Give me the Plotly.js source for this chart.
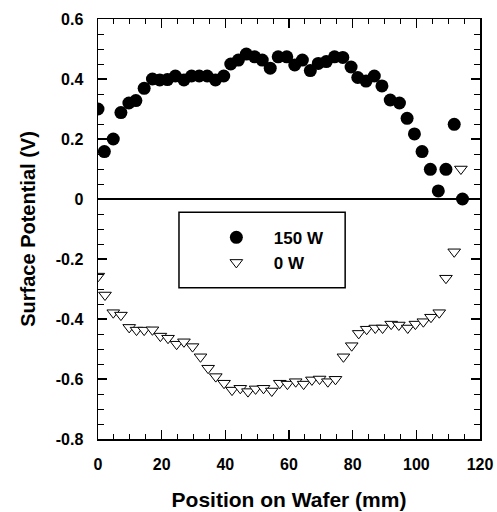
<!DOCTYPE html>
<html>
<head>
<meta charset="utf-8">
<script src="https://cdn.plot.ly/plotly-3.0.1.min.js"></script>
<style>html,body{margin:0;padding:0;background:#fff;}#chart{width:497px;height:512px;}</style>
</head>
<body>
<div id="chart"></div>
<script>
// 150 W series
const x150 = [0, 2, 4.8, 7.2, 9.7, 11.9, 14.5, 17.1, 19.4, 21.8, 24.3, 27, 29.4, 31.8, 34.3, 36.9, 39.5, 41.7, 44.1, 46.6, 49.2, 51.6, 54.1, 56.6, 59.3, 61.8, 64.2, 66.7, 69.2, 71.7, 74.3, 76.9, 79.5, 81.6, 84.2, 86.8, 89.2, 91.8, 94.7, 97.1, 99.4, 101.8, 104.4, 106.9, 109.3, 111.9, 114.5];
const y150 = [0.30, 0.158, 0.20, 0.288, 0.32, 0.328, 0.369, 0.40, 0.397, 0.398, 0.41, 0.397, 0.41, 0.41, 0.41, 0.397, 0.41, 0.45, 0.463, 0.483, 0.474, 0.463, 0.436, 0.474, 0.474, 0.447, 0.463, 0.428, 0.452, 0.458, 0.474, 0.472, 0.44, 0.405, 0.393, 0.41, 0.377, 0.33, 0.32, 0.269, 0.217, 0.158, 0.099, 0.027, 0.099, 0.249, 0.0];
// 0 W series
const x0 = [0.1, 2.2, 4.8, 7.2, 9.8, 12.1, 14.5, 17.1, 19.6, 22, 24.7, 27, 29.7, 32.2, 34.6, 37, 39.6, 42.1, 44.7, 47.1, 49.5, 52, 54.6, 57.1, 59.5, 62.1, 64.6, 67.2, 69.6, 72.2, 74.6, 77.1, 79.7, 81.9, 84.4, 87.1, 89.4, 92.1, 94.5, 97.3, 99.7, 102.2, 104.6, 107.2, 109.3, 111.9, 114];
const y0 = [-0.257, -0.32, -0.379, -0.387, -0.428, -0.437, -0.437, -0.436, -0.457, -0.464, -0.484, -0.476, -0.492, -0.526, -0.564, -0.592, -0.614, -0.637, -0.631, -0.642, -0.633, -0.631, -0.64, -0.614, -0.617, -0.609, -0.617, -0.603, -0.6, -0.609, -0.601, -0.526, -0.489, -0.448, -0.434, -0.43, -0.43, -0.417, -0.42, -0.43, -0.417, -0.409, -0.394, -0.379, -0.264, -0.176, 0.10];
const seriesNames = ["150 W", "0 W"];
const xTickVals = [0, 20, 40, 60, 80, 100, 120];
const yTickVals = [-0.8, -0.6, -0.4, -0.2, 0, 0.2, 0.4, 0.6];
const yTickText = ["-0.8", "-0.6", "-0.4", "-0.2", "0", "0.2", "0.4", "0.6"];

const FONT = "Liberation Sans, Arial, sans-serif";
const traces = [
  {x: x150, y: y150, name: seriesNames[0], type: "scatter", mode: "markers",
   marker: {symbol: "circle", size: 13, color: "#000"}},
  {x: x0, y: y0, name: seriesNames[1], type: "scatter", mode: "markers",
   marker: {symbol: "triangle-down", size: 11, color: "#fff", line: {color: "#000", width: 1}}}
];
const axisCommon = {
  showgrid: false, showline: true, linecolor: "#000", linewidth: 1.5, mirror: "ticks",
  ticks: "inside", tickcolor: "#000", tickwidth: 1.2, ticklen: 9,
  tickfont: {family: FONT, size: 16, color: "#000", weight: "bold"}
};
const layout = {
  width: 497, height: 512,
  margin: {l: 98, r: 17, t: 19, b: 73},
  paper_bgcolor: "#fff", plot_bgcolor: "#fff",
  showlegend: true,
  font: {family: FONT, color: "#000"},
  xaxis: Object.assign({}, axisCommon, {
    range: [0, 120], tickvals: xTickVals, zeroline: false,
    ticklabelstandoff: 10,
    minor: {dtick: 5, ticks: "inside", ticklen: 5, tickcolor: "#000", tickwidth: 1},
    title: {text: "Position on Wafer (mm)", font: {family: FONT, size: 21, color: "#000", weight: "bold"}, standoff: 20}
  }),
  yaxis: Object.assign({}, axisCommon, {
    range: [-0.8, 0.6], tickvals: yTickVals, ticktext: yTickText,
    zeroline: true, zerolinecolor: "#000", zerolinewidth: 1.2,
    ticklabelstandoff: 10,
    minor: {dtick: 0.05, ticks: "inside", ticklen: 6, tickcolor: "#000", tickwidth: 1},
    title: {text: "Surface Potential (V)", font: {family: FONT, size: 20, color: "#000", weight: "bold"}, standoff: 14}
  }),
  legend: {
    x: 0.264, y: 0.522, xanchor: "left", yanchor: "top",
    bgcolor: "rgba(0,0,0,0)", borderwidth: 0,
    font: {family: FONT, size: 17, color: "#000", weight: "bold"},
    itemwidth: 65, tracegroupgap: 0
  },
  shapes: [
    {type: "rect", xref: "paper", yref: "paper", x0: 0.212, x1: 0.647, y0: 0.36, y1: 0.54,
     line: {color: "#000", width: 1.5}, fillcolor: "rgba(0,0,0,0)"}
  ]
};
Plotly.newPlot("chart", traces, layout, {displayModeBar: false, staticPlot: true});
</script>
</body>
</html>
